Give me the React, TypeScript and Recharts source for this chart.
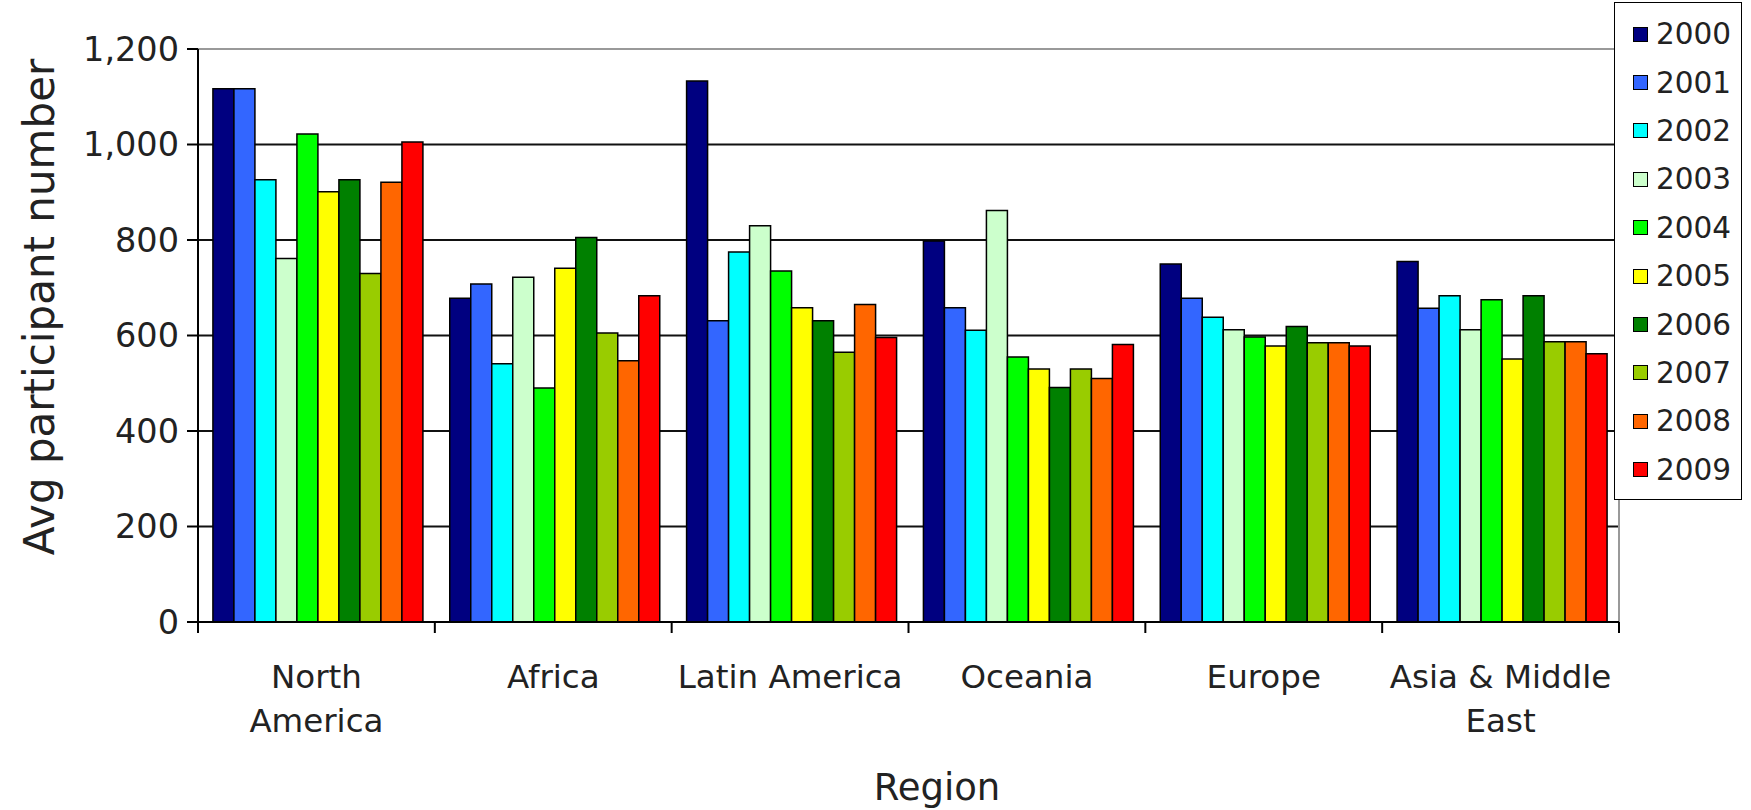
import { BarChart, Bar, XAxis, YAxis, CartesianGrid, ReferenceLine, Legend } from 'recharts'

// categories
const regions = ['North America', 'Africa', 'Latin America', 'Oceania', 'Europe', 'Asia & Middle East']
// how each category label wraps
const regionLines = [['North', 'America'], ['Africa'], ['Latin America'], ['Oceania'], ['Europe'], ['Asia & Middle', 'East']]

const years = ['2000', '2001', '2002', '2003', '2004', '2005', '2006', '2007', '2008', '2009']
const yearColors = ['#000080', '#3366FF', '#00FFFF', '#CCFFCC', '#00FF00', '#FFFF00', '#008000', '#99CC00', '#FF6600', '#FF0000']

// values per year, in region order
const v2000 = [1117, 678, 1133, 798, 750, 755]
const v2001 = [1117, 708, 631, 658, 678, 657]
const v2002 = [926, 541, 775, 611, 638, 683]
const v2003 = [761, 722, 830, 862, 612, 612]
const v2004 = [1022, 490, 735, 555, 597, 675]
const v2005 = [901, 741, 658, 530, 578, 551]
const v2006 = [926, 805, 631, 491, 619, 683]
const v2007 = [730, 605, 565, 530, 585, 587]
const v2008 = [921, 547, 665, 510, 585, 587]
const v2009 = [1005, 683, 596, 581, 578, 562]

const yTicks = [0, 200, 400, 600, 800, 1000, 1200]
// category boundaries, for the tick marks between regions
const edgeTicks = [0, 1, 2, 3, 4, 5, 6]

const series = [v2000, v2001, v2002, v2003, v2004, v2005, v2006, v2007, v2008, v2009]

const data = regions.map((region, i) => {
  const row: Record<string, string | number> = { region, edge: i }
  years.forEach((y, k) => {
    row[y] = series[k][i]
  })
  return row
})

const FONT = '"DejaVu Sans", Verdana, sans-serif'

const RegionTick = (props: any) => {
  const { x, y, index } = props
  const lines = regionLines[index] || [props.payload.value]
  return (
    <g>
      {lines.map((l: string, i: number) => (
        <text key={i} x={x} y={y + 65 + i * 44} textAnchor="middle" fontSize={32.5} fontFamily={FONT} fill="#222">
          {l}
        </text>
      ))}
    </g>
  )
}

const renderLegend = () => (
  <div
    style={{
      boxSizing: 'border-box',
      width: '100%',
      height: '100%',
      border: '1.5px solid #000',
      background: '#fff',
      paddingTop: 7,
      paddingLeft: 18,
      fontFamily: FONT,
    }}
  >
    {years.map((y, i) => (
      <div key={y} style={{ display: 'flex', alignItems: 'center', height: 48.4 }}>
        <span style={{ display: 'inline-block', width: 13, height: 13, background: yearColors[i], border: '1px solid #000', marginRight: 8 }} />
        <span style={{ fontSize: 29.5, color: '#222' }}>{y}</span>
      </div>
    ))}
  </div>
)

export default function App() {
  return (
    <div style={{ position: 'absolute', left: 0, top: 0, width: 1751, height: 810, background: '#fff' }}>
      <BarChart
        width={1751}
        height={810}
        data={data}
        margin={{ top: 49, right: 132, left: 0, bottom: 0 }}
        barCategoryGap="6.3%"
        barGap={0}
      >
        <CartesianGrid xAxisId="b" horizontal vertical={false} stroke="#111" strokeWidth={2} />
        <XAxis
          xAxisId="a"
          dataKey="edge"
          type="number"
          scale="linear"
          domain={[0, 6]}
          allowDataOverflow
          ticks={edgeTicks}
          interval={0}
          height={1}
          axisLine={{ stroke: '#000', strokeWidth: 2 }}
          tickLine={{ stroke: '#000', strokeWidth: 2 }}
          tickSize={11}
          tick={() => <g />}
        />
        <XAxis
          xAxisId="b"
          dataKey="region"
          height={187}
          axisLine={false}
          tickLine={false}
          tickSize={0}
          tickMargin={0}
          interval={0}
          tick={RegionTick}
          label={{
            content: (p: any) => {
              const vb = p.viewBox
              return (
                <text x={937} y={vb.y + 177} textAnchor="middle" fontSize={37} fontFamily={FONT} fill="#222">
                  Region
                </text>
              )
            },
          }}
        />
        <YAxis
          width={198}
          domain={[0, 1200]}
          ticks={yTicks}
          interval={0}
          axisLine={{ stroke: '#000', strokeWidth: 2 }}
          tickLine={{ stroke: '#000', strokeWidth: 2 }}
          tickSize={11}
          tickMargin={8}
          tickFormatter={(v: number) => v.toLocaleString('en-US')}
          tick={{ fontSize: 33.5, fontFamily: FONT, fill: '#222' }}
          label={{
            content: () => (
              <text
                x={39}
                y={307}
                transform="rotate(-90, 39, 307)"
                textAnchor="middle"
                dominantBaseline="central"
                fontSize={42}
                fontFamily={FONT}
                fill="#222"
              >
                Avg participant number
              </text>
            ),
          }}
        />
        <ReferenceLine xAxisId="b" y={1200} stroke="#999" strokeWidth={2} />
        <ReferenceLine xAxisId="a" x={6} stroke="#999" strokeWidth={2} ifOverflow="visible" />
        <Legend
          layout="horizontal"
          verticalAlign="middle"
          align="center"
          wrapperStyle={{ position: 'absolute', left: 1614, top: 2, width: 128, height: 498 }}
          content={renderLegend}
        />
        {years.map((y, i) => (
          <Bar key={y} xAxisId="b" dataKey={y} fill={yearColors[i]} stroke="#000" strokeWidth={1.5} isAnimationActive={false} />
        ))}
      </BarChart>
    </div>
  )
}
